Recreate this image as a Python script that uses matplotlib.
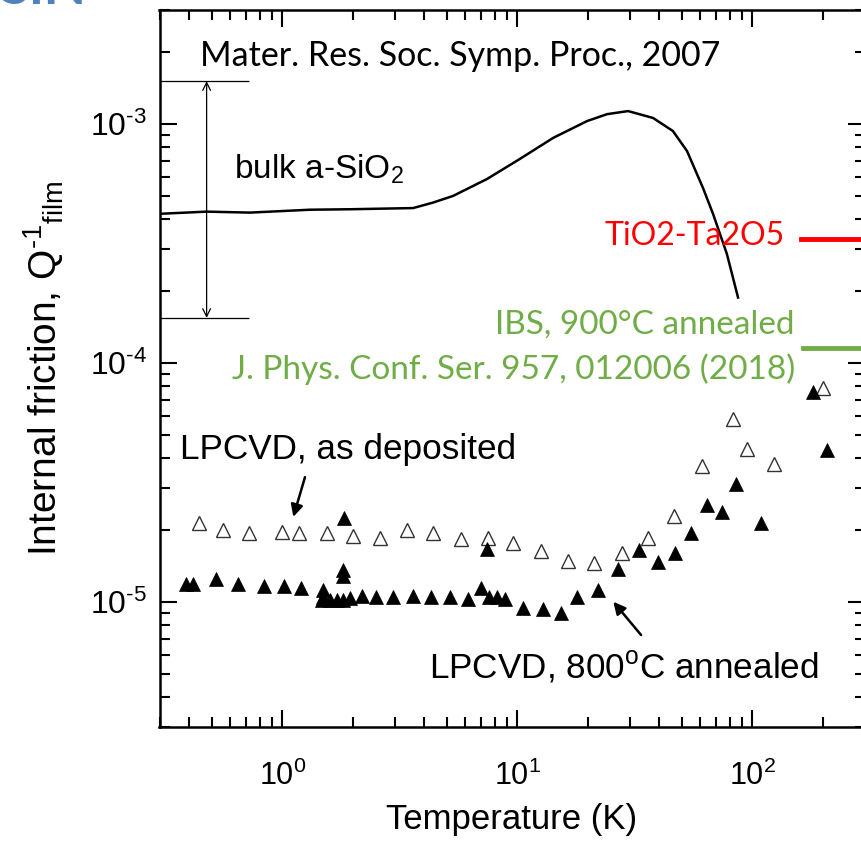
import matplotlib
matplotlib.use("Agg")
import matplotlib.pyplot as plt
import numpy as np

plt.rcParams['font.family'] = ['Liberation Sans', 'DejaVu Sans']
plt.rcParams['mathtext.fontset'] = 'custom'
plt.rcParams['mathtext.rm'] = 'Liberation Sans'
plt.rcParams['mathtext.it'] = 'Liberation Sans:italic'
plt.rcParams['mathtext.bf'] = 'Liberation Sans:bold'
plt.rcParams['axes.unicode_minus'] = False

NOTE_FONT = ['Lato', 'DejaVu Sans']

# bulk a-SiO2 reference curve
bulk_T = [0.30, 0.476, 0.728, 1.31, 1.94, 3.60, 4.37, 5.32, 7.43, 10.26, 14.2,
          19.8, 24.1, 29.6, 37.8, 45.9, 52.7, 61.6, 68.0, 77.9, 86.9]
bulk_Q = [4.21e-4, 4.30e-4, 4.26e-4, 4.38e-4, 4.40e-4, 4.45e-4, 4.69e-4, 5.00e-4,
          5.89e-4, 7.15e-4, 8.75e-4, 1.029e-3, 1.10e-3, 1.133e-3, 1.06e-3, 9.35e-4,
          7.71e-4, 5.41e-4, 4.21e-4, 2.86e-4, 1.88e-4]

# spread of bulk values (range bracket)
bulk_range_T = [0.30, 0.721]
bulk_range_lo = 1.545e-4
bulk_range_hi = 1.511e-3
bulk_range_arrow_T = 0.476

# LPCVD SiN, as deposited (open triangles)
dep_T = [0.443, 0.557, 0.723, 1.00, 1.177, 1.543, 1.991, 2.602, 3.400, 4.386,
         5.754, 7.474, 9.608, 12.60, 16.37, 21.18, 27.79, 36.06, 46.39, 60.85,
         82.45, 94.56, 123.9, 199.1]
dep_Q = [2.15e-5, 2.00e-5, 1.95e-5, 1.97e-5, 1.95e-5, 1.95e-5, 1.89e-5, 1.86e-5,
         2.00e-5, 1.95e-5, 1.83e-5, 1.86e-5, 1.76e-5, 1.64e-5, 1.48e-5, 1.46e-5,
         1.61e-5, 1.86e-5, 2.29e-5, 3.70e-5, 5.81e-5, 4.35e-5, 3.77e-5, 7.88e-5]

# LPCVD SiN, 800C annealed (filled triangles)
ann_T = [0.388, 0.418, 0.522, 0.649, 0.835, 1.019, 1.196, 1.493, 1.493, 1.470,
         1.594, 1.702, 1.816, 1.940, 1.816, 1.816, 1.829, 2.175, 2.502, 2.964,
         3.606, 4.276, 5.168, 6.181, 7.000, 7.403, 7.593, 8.212, 8.856, 10.60,
         12.82, 15.33, 17.98, 22.03, 26.88, 32.98, 39.66, 46.84, 54.63, 64.30,
         74.45, 84.89, 108.8, 180.6, 208.3]
ann_Q = [1.19e-5, 1.19e-5, 1.25e-5, 1.19e-5, 1.17e-5, 1.17e-5, 1.14e-5, 1.12e-5,
         1.05e-5, 1.02e-5, 1.02e-5, 1.02e-5, 1.02e-5, 1.04e-5, 1.36e-5, 1.28e-5,
         2.24e-5, 1.06e-5, 1.05e-5, 1.05e-5, 1.06e-5, 1.05e-5, 1.05e-5, 1.03e-5,
         1.15e-5, 1.66e-5, 1.05e-5, 1.05e-5, 1.03e-5, 9.47e-6, 9.35e-6, 9.02e-6,
         1.05e-5, 1.12e-5, 1.37e-5, 1.65e-5, 1.47e-5, 1.61e-5, 1.95e-5, 2.54e-5,
         2.38e-5, 3.11e-5, 2.15e-5, 7.55e-5, 4.34e-5]

# coating levels for comparison
tita_T = [161, 300]
tita_Q = 3.31e-4
ibs_T = [164, 300]
ibs_Q = 1.16e-4

y_ticks = [1e-5, 1e-4, 1e-3]
y_ticklabels = ['$10^{\\text{-}5}$', '$10^{\\text{-}4}$', '$10^{\\text{-}3}$']

fig = plt.figure(figsize=(8.61, 8.43), dpi=100)
ax = fig.add_axes([159.5 / 861, 116 / 843, 705 / 861, 717 / 843])
ax.set_xscale('log')
ax.set_yscale('log')
ax.set_xlim(0.3, 300)
ax.set_ylim(3e-6, 3e-3)

ax.plot(bulk_T, bulk_Q, color='black', lw=1.8, solid_joinstyle='round')

ax.hlines([bulk_range_hi, bulk_range_lo], bulk_range_T[0], bulk_range_T[1],
          color='black', lw=0.9)
ax.annotate('', xy=(bulk_range_arrow_T, bulk_range_lo),
            xytext=(bulk_range_arrow_T, bulk_range_hi),
            arrowprops=dict(arrowstyle='<->', lw=0.9, color='black',
                            shrinkA=0, shrinkB=0, mutation_scale=14))

ax.plot(dep_T, dep_Q, ls='none', marker='^', ms=10, mfc='white',
        mec='#333333', mew=1.0)
ax.plot(ann_T, ann_Q, ls='none', marker='^', ms=10, mfc='black', mec='black',
        mew=0.5)

ax.plot(tita_T, [tita_Q, tita_Q], color='#FF0000', lw=3.5, clip_on=False)
ax.plot(ibs_T, [ibs_Q, ibs_Q], color='#70AD47', lw=3.5, clip_on=False)

ax.text(0.446, 1.92e-3, 'Mater. Res. Soc. Symp. Proc., 2007', fontsize=24.5,
        family=NOTE_FONT, va='center', ha='left')
ax.text(0.62, 5.89e-4, 'bulk a-SiO$_2$', fontsize=24, va='baseline', ha='left')
ax.text(137, 3.4e-4, 'TiO2-Ta2O5', fontsize=23, family=NOTE_FONT,
        color='#FF0000', va='center', ha='right')
ax.text(151.8, 1.45e-4, 'IBS, 900°C annealed', fontsize=24, family=NOTE_FONT,
        color='#70AD47', va='center', ha='right')
ax.text(151.8, 9.4e-5, 'J. Phys. Conf. Ser. 957, 012006 (2018)', fontsize=24,
        family=NOTE_FONT, color='#70AD47', va='center', ha='right')

ax.text(0.367, 4.35e-5, 'LPCVD, as deposited', fontsize=25.3, va='center',
        ha='left')
ax.annotate('', xy=(1.113, 2.27e-5), xytext=(1.248, 3.33e-5),
            arrowprops=dict(arrowstyle='-|>', lw=1.8, color='black',
                            shrinkA=0, shrinkB=0, mutation_scale=18))
ax.text(4.2, 5.36e-6, 'LPCVD, 800$^{\\rm o}$C annealed', fontsize=25.3,
        va='center', ha='left')
ax.annotate('', xy=(25.6, 1.003e-5), xytext=(33.6, 7.28e-6),
            arrowprops=dict(arrowstyle='-|>', lw=1.8, color='black',
                            shrinkA=0, shrinkB=0, mutation_scale=18))

ax.set_xlabel('Temperature (K)', fontsize=25, labelpad=8)
ax.set_ylabel('Internal friction, Q$^{\\text{-}1}$$_{\\rm film}$', fontsize=28,
              labelpad=17)

ax.set_yticks(y_ticks)
ax.set_yticklabels(y_ticklabels)

for s in ax.spines.values():
    s.set_linewidth(1.8)
ax.tick_params(which='both', direction='in', top=True, right=True, width=1.5)
ax.tick_params(which='major', length=12, labelsize=22)
ax.tick_params(axis='y', which='major', labelsize=23)
ax.tick_params(which='minor', length=7)
ax.tick_params(axis='x', which='major', pad=24)
ax.tick_params(axis='y', which='major', pad=9)

# slide heading fragment above the plot
fig.text(0.0, 1 - 4 / 843, 'SiN', fontsize=40, fontweight='bold',
         color='#4F81BD', va='baseline', ha='left', family=NOTE_FONT)

fig.savefig('out.png', dpi=100)
